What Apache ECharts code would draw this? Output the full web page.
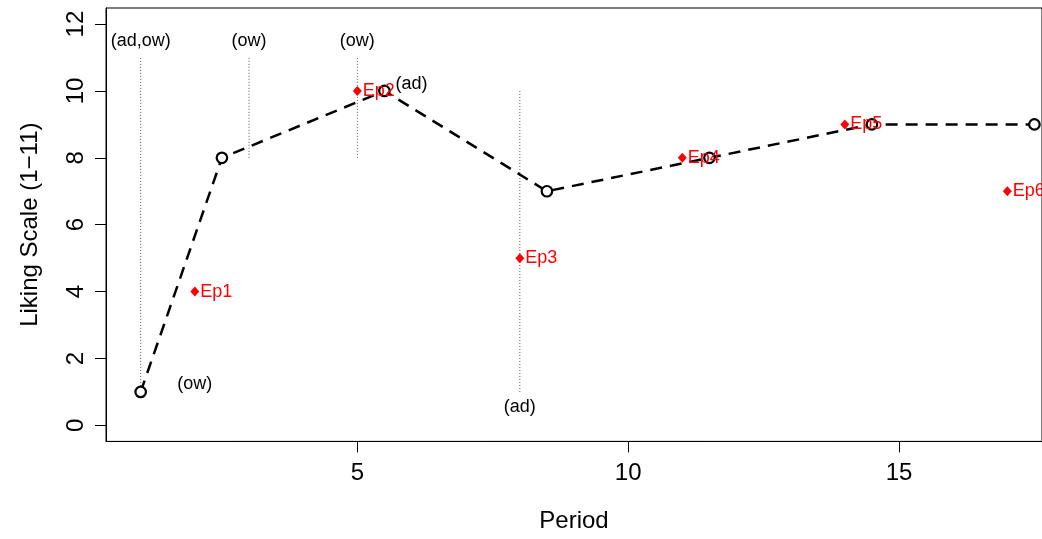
<!DOCTYPE html>
<html>
<head>
<meta charset="utf-8">
<script src="https://cdn.jsdelivr.net/npm/echarts@6/dist/echarts.min.js"></script>
<style>
html,body{margin:0;padding:0;background:#fff;}
#chart{width:1042px;height:539px;}
</style>
</head>
<body>
<div id="chart"></div>
<script>
// ---- data ----
const periods = [1, 2.5, 5.5, 8.5, 11.5, 14.5, 17.5];
const liking = [1, 8, 10, 7, 8, 9, 9];
const epX = [2, 5, 8, 11, 14, 17];
const epY = [4, 10, 5, 8, 9, 7];
const epLabels = ['Ep1', 'Ep2', 'Ep3', 'Ep4', 'Ep5', 'Ep6'];
const eventX = [1, 3, 5, 8];
const eventFrom = [1, 8, 8, 1];
const eventTo = [11, 11, 11, 10];
const noteX = [1, 3, 5, 2, 6, 8];
const noteY = [11.5, 11.5, 11.5, 1.25, 10.2, 0.55];
const noteText = ['(ad,ow)', '(ow)', '(ow)', '(ow)', '(ad)', '(ad)'];
const xTicks = [5, 10, 15];
const yTicks = [0, 2, 4, 6, 8, 10, 12];

const FONT = '"Liberation Sans", Arial, Helvetica, sans-serif';
const chart = echarts.init(document.getElementById('chart'), null, {renderer: 'canvas'});

const series = [];
eventX.forEach((x, i) => {
  series.push({
    type: 'line', silent: true, symbol: 'none', z: 1,
    data: [[x, eventFrom[i]], [x, eventTo[i]]],
    lineStyle: {color: '#555', width: 1, type: [1, 2]}
  });
});
series.push({
  type: 'line', z: 3,
  data: periods.map((p, i) => [p, liking[i]]),
  symbol: 'circle', symbolSize: 10.5, showSymbol: true,
  lineStyle: {color: '#000', width: 2.5, type: [12, 8]},
  itemStyle: {color: '#fff', borderColor: '#000', borderWidth: 2.2, opacity: 1}
});
series.push({
  type: 'scatter', z: 4,
  data: epX.map((x, i) => [x, epY[i], epLabels[i]]),
  symbol: 'diamond', symbolSize: [9, 10],
  itemStyle: {color: '#ff0000', opacity: 1},
  label: {show: true, position: 'right', distance: 1, color: '#ff0000', opacity: 1, fontSize: 18, fontFamily: FONT,
    formatter: p => p.data[2]}
});
series.push({
  type: 'scatter', z: 5,
  data: noteX.map((x, i) => [x, noteY[i], noteText[i]]),
  symbolSize: 0,
  itemStyle: {opacity: 1},
  label: {show: true, position: 'inside', color: '#000', opacity: 1, fontSize: 18, fontFamily: FONT,
    formatter: p => p.data[2]}
});

chart.setOption({
  animation: false,
  backgroundColor: '#fff',
  grid: {left: 106, right: -2, top: 8, bottom: 97.6, show: true, borderColor: '#000', borderWidth: 1, containLabel: false},
  xAxis: {
    type: 'value', min: 0.36, max: 17.64,
    name: 'Period', nameLocation: 'middle', nameGap: 68,
    nameTextStyle: {fontSize: 24, fontFamily: FONT, color: '#000'},
    axisLine: {show: true, onZero: false, lineStyle: {color: '#000', width: 1}},
    axisTick: {show: true, inside: false, length: 11, customValues: xTicks, lineStyle: {color: '#000'}},
    axisLabel: {customValues: xTicks, fontSize: 24, fontFamily: FONT, color: '#000', margin: 20},
    splitLine: {show: false}
  },
  yAxis: {
    type: 'value', min: -0.48, max: 12.48,
    name: 'Liking Scale (1\u221211)', nameLocation: 'middle', nameGap: 64,
    nameTextStyle: {fontSize: 24, fontFamily: FONT, color: '#000'},
    axisLine: {show: true, onZero: false, lineStyle: {color: '#000', width: 1}},
    axisTick: {show: true, inside: false, length: 11, customValues: yTicks, lineStyle: {color: '#000'}},
    axisLabel: {customValues: yTicks, rotate: 90, fontSize: 24, fontFamily: FONT, color: '#000', margin: 18},
    splitLine: {show: false}
  },
  series: series
});
</script>
</body>
</html>
